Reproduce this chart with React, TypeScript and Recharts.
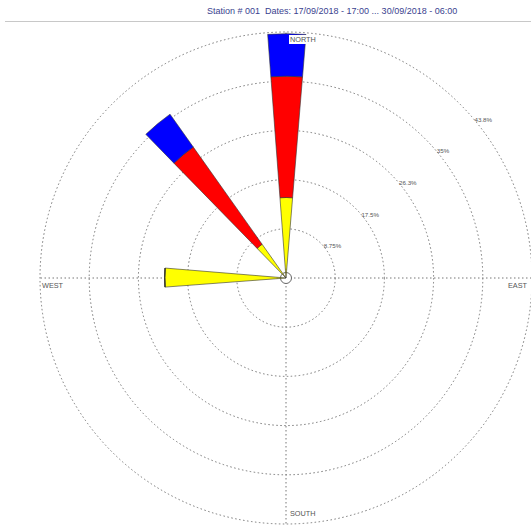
import React from 'react';
import {
  RadialBarChart,
  RadialBar,
  PolarAngleAxis,
  PolarRadiusAxis,
  PolarGrid,
  Customized,
} from 'recharts';

const directions = [
  '0', '10', '20', '30', '40', '50', '60', '70', '80',
  '90', '100', '110', '120', '130', '140', '150', '160', '170',
  '180', '190', '200', '210', '220', '230', '240', '250', '260',
  '270', '280', '290', '300', '310', '320', '330', '340', '350',
];
const yellowValues = [
  14.4, 0, 0, 0, 0, 0, 0, 0, 0,
  0, 0, 0, 0, 0, 0, 0, 0, 0,
  0, 0, 0, 0, 0, 0, 0, 0, 0,
  21.7, 0, 0, 0, 0, 7.4, 0, 0, 0,
];
const redValues = [
  21.7, 0, 0, 0, 0, 0, 0, 0, 0,
  0, 0, 0, 0, 0, 0, 0, 0, 0,
  0, 0, 0, 0, 0, 0, 0, 0, 0,
  0, 0, 0, 0, 0, 21.3, 0, 0, 0,
];
const blueValues = [
  7.6, 0, 0, 0, 0, 0, 0, 0, 0,
  0, 0, 0, 0, 0, 0, 0, 0, 0,
  0, 0, 0, 0, 0, 0, 0, 0, 0,
  0, 0, 0, 0, 0, 7.2, 0, 0, 0,
];
const ringValues = [8.75, 17.5, 26.25, 35, 43.75];
const ringLabels = ['8.75%', '17.5%', '26.3%', '35%', '43.8%'];
const compassLabels: Record<string, string> = {
  '0': 'NORTH',
  '90': 'EAST',
  '180': 'SOUTH',
  '270': 'WEST',
};
const titleText = 'Station # 001  Dates: 17/09/2018 - 17:00 ... 30/09/2018 - 06:00';

const data = directions.map((d, i) => ({
  dir: d,
  y: yellowValues[i],
  r: redValues[i],
  b: blueValues[i],
}));

const W = 531;
const H = 529;
const CX = 286;
const CY = 278;
const R = 246;
const MAXV = 43.75;
const FONT = 'Liberation Sans, Arial, sans-serif';

const gridRadii = ringValues.map((v) => (v / MAXV) * R);

const toXY = (r: number, angle: number) => {
  const rad = (-angle * Math.PI) / 180;
  return { x: CX + r * Math.cos(rad), y: CY + r * Math.sin(rad) };
};

const AngleTick = (props: any) => {
  const { payload } = props;
  const label = compassLabels[String(payload?.value)];
  if (!label) return null;
  const angle = 90 - Number(payload.value);
  const p = toXY(R, angle);
  let x = p.x;
  let y = p.y;
  let anchor: 'start' | 'end' = 'start';
  if (label === 'NORTH') {
    x = p.x + 4;
    y = p.y + 10;
  } else if (label === 'SOUTH') {
    x = p.x + 4;
    y = p.y - 8;
  } else if (label === 'EAST') {
    x = p.x - 5;
    y = p.y + 10;
    anchor = 'end';
  } else {
    x = p.x + 2;
    y = p.y + 10;
  }
  const w = label.length * 5.8 + 2;
  return (
    <g>
      <rect
        x={anchor === 'start' ? x - 1 : x - w + 1}
        y={y - 7}
        width={w}
        height={9}
        fill="#ffffff"
      />
      <text x={x} y={y} textAnchor={anchor} fontSize={7.3} fill="#555" fontFamily={FONT}>
        {label}
      </text>
    </g>
  );
};

const RadiusTick = (props: any) => {
  const { payload } = props;
  const idx = ringValues.indexOf(payload?.value);
  if (idx < 0) return null;
  const r = (payload.value / MAXV) * R;
  const p = toXY(r, 40);
  return (
    <text x={p.x} y={p.y + 2} textAnchor="start" fontSize={6.2} fill="#555" fontFamily={FONT}>
      {ringLabels[idx]}
    </text>
  );
};

const CenterCircle = () => (
  <circle cx={CX} cy={CY} r={5.5} fill="#ffffff" stroke="#666" strokeWidth={1} />
);

export default function App() {
  return (
    <div
      style={{
        position: 'absolute',
        left: 0,
        top: 0,
        width: W,
        height: H,
        background: '#ffffff',
        overflow: 'hidden',
      }}
    >
      <div
        style={{
          position: 'absolute',
          left: 207,
          top: 6,
          fontFamily: FONT,
          fontSize: 9,
          color: '#3a3f8f',
          whiteSpace: 'pre',
          lineHeight: '10px',
        }}
      >
        {titleText}
      </div>
      <div
        style={{
          position: 'absolute',
          left: 5,
          top: 21,
          width: W - 5,
          height: 1,
          background: '#c8c8c8',
        }}
      />
      <div style={{ position: 'absolute', left: 0, top: 0 }}>
        <RadialBarChart
          width={W}
          height={H}
          cx={CX}
          cy={CY}
          innerRadius={0}
          outerRadius={R}
          startAngle={85}
          endAngle={-275}
          layout="centric"
          data={data}
          barCategoryGap="3%"
          margin={{ top: 0, right: 0, bottom: 0, left: 0 }}
        >
          <PolarGrid
            gridType="circle"
            polarRadius={gridRadii}
            polarAngles={[0, 90, 180, 270]}
            stroke="#777"
            strokeDasharray="1.5 2.5"
            strokeWidth={1}
          />
          <PolarAngleAxis
            type="category"
            dataKey="dir"
            axisLine={false}
            tickLine={false}
            tick={<AngleTick />}
          />
          <PolarRadiusAxis
            type="number"
            domain={[0, MAXV]}
            ticks={ringValues}
            angle={40}
            axisLine={false}
            tickLine={false}
            tick={<RadiusTick />}
          />
          <RadialBar dataKey="y" stackId="a" fill="#ffff00" stroke="#333" strokeWidth={0.6} isAnimationActive={false} />
          <RadialBar dataKey="r" stackId="a" fill="#ff0000" stroke="#333" strokeWidth={0.6} isAnimationActive={false} />
          <RadialBar dataKey="b" stackId="a" fill="#0000ff" stroke="#333" strokeWidth={0.6} isAnimationActive={false} />
          <Customized component={CenterCircle} />
        </RadialBarChart>
      </div>
    </div>
  );
}
